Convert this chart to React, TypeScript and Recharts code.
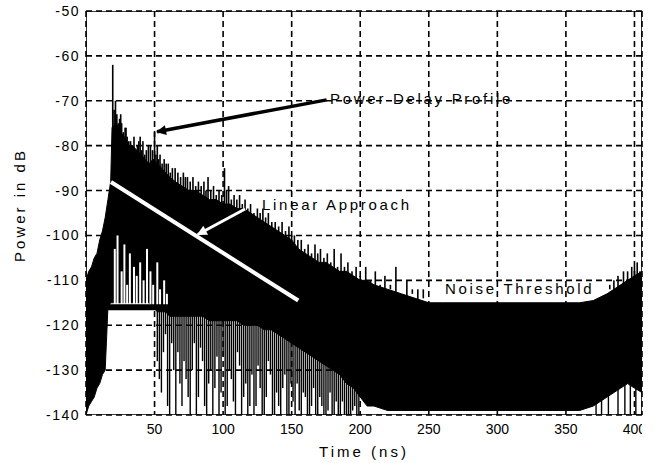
import React from 'react';
import { ComposedChart, Area, Bar, Line, Scatter, XAxis, YAxis, CartesianGrid } from 'recharts';

// ---------- data ----------
const xTicks = [50, 100, 150, 200, 250, 300, 350, 400];
const yTicks = [-140, -130, -120, -110, -100, -90, -80, -70, -60, -50];
const xMax = 405.5;

// envelope of the power delay profile (ns, dB)
const envTimes = [0, 2, 4, 6, 8, 10, 12, 14, 16, 18, 19, 22, 25, 28, 31, 34, 37, 40, 43, 46, 49, 52, 55, 58, 61, 65, 70, 75, 80, 85, 90, 95, 100, 105, 110, 115, 120, 125, 130, 135, 140, 145, 150, 155, 160, 165, 170, 175, 180, 185, 190, 195, 200, 205, 210, 220, 230, 240, 250, 260, 280, 300, 320, 340, 360, 370, 380, 385, 390, 395, 400, 405.5];
const envUpper = [-110, -108, -107, -105, -104, -101, -99, -96, -92, -88, -76, -75, -77, -78, -80, -80, -81, -82, -83, -84, -83, -84, -85, -86, -87, -88, -89, -90, -90, -91, -92, -92, -93, -93, -94, -94, -95, -96, -97, -98, -99, -100, -101, -103, -104, -105, -106, -106, -107, -108, -108, -109, -110, -110, -111, -112, -113, -114, -115, -115, -115, -115, -115, -115, -115, -114.5, -113, -112, -111, -110, -109, -108];
const envLower = [-140, -138, -137, -136, -134, -133, -131, -130, -116, -115, -115, -115, -115, -115, -115, -115, -115, -115, -115, -115, -116, -117, -117, -117, -118, -118, -118, -118, -118, -118, -119, -119, -119, -119, -119, -120, -120, -120, -121, -121, -122, -123, -124, -125, -126, -127, -128, -129, -130, -131, -133, -134, -136, -138, -138, -139, -139, -139, -139, -139, -139, -139, -139, -139, -139, -138, -136, -135, -134, -133, -134, -135];

// upward spikes, first set (ns, low dB, peak dB)
const upSpikeTimes = [19.5, 20.5, 22.5, 24.5, 26, 28.5, 30, 32.5, 35, 37.5, 39.5, 41.5, 44, 47, 50, 52, 54, 57, 60, 63, 67, 71, 74, 78, 82, 86, 89, 93, 97, 101, 104, 108, 112, 116, 120, 125, 129, 133, 138, 143, 148, 152, 157, 162, 167, 171, 176, 181, 186, 191, 197, 204, 211, 218, 226, 234, 242, 385, 392, 398, 402];
const upSpikeLow = [-90, -88, -88, -90, -90, -92, -90, -92, -92, -94, -92, -94, -95, -92, -92, -95, -96, -96, -97, -98, -98, -100, -100, -100, -101, -101, -102, -102, -103, -103, -104, -104, -105, -105, -106, -107, -107, -108, -109, -110, -110, -112, -113, -114, -114, -115, -116, -117, -118, -118, -120, -120, -121, -122, -122, -123, -124, -120, -118, -118, -118];
const upSpikePeak = [-62, -72, -73, -74, -75, -76, -78, -79, -78, -80, -78, -79, -81, -80, -77, -80, -82, -83, -84, -85, -86, -86, -87, -87, -88, -88, -87, -89, -90, -85, -89, -91, -91, -92, -93, -94, -94, -95, -97, -97, -98, -100, -101, -102, -102, -103, -104, -103, -104, -106, -107, -107, -108, -109, -107, -110, -112, -110, -108, -107, -106];

// upward spikes, second set (ns, peak dB), all rising from the body at spikeBase
const upSpike2Times = [21.5, 23.5, 25.3, 27.2, 29.2, 31.2, 33.8, 36.2, 38.5, 40.5, 42.8, 45.5, 48.5, 51, 53, 55.5, 58.5, 61.5, 65, 69, 72.5, 76, 80, 84, 87.5, 91, 95, 99, 102.5, 106, 110, 114, 118, 122.5, 127, 131, 135.5, 140.5, 145.5, 150, 154.5, 159.5, 164.5, 169, 173.5, 178.5, 183.5, 188.5, 194, 200, 207.5, 214.5, 222, 230, 238, 246, 382, 388, 395, 400, 404];
const upSpike2Peak = [-70, -75, -73, -77, -76, -79, -80, -81, -79, -81, -82, -80, -81, -82, -83, -84, -84, -86, -85, -87, -87, -88, -89, -89, -90, -90, -91, -91, -90, -92, -92, -93, -94, -95, -95, -96, -97, -98, -99, -100, -101, -103, -104, -104, -105, -106, -107, -107, -108, -109, -110, -111, -111, -112, -113, -114, -111, -109, -108, -107, -108];
const spikeBase = -112;

// downward spikes (ns, deepest dB), hanging from the body at dipBase
const downSpikeTimes = [52, 53.5, 55, 56.5, 58, 59.5, 61, 62.5, 64, 65.5, 67, 68.5, 70, 71.5, 73, 74.5, 76, 77.5, 79, 80.5, 82, 83.5, 85, 86.5, 88, 89.5, 91, 92.5, 94, 95.5, 97, 98.5, 100, 101.5, 103, 104.5, 106, 107.5, 109, 110.5, 112, 113.5, 115, 116.5, 118, 119.5, 121, 122.5, 124, 125.5, 127, 128.5, 130, 131.5, 133, 134.5, 136, 137.5, 139, 140.5, 142, 143.5, 145, 146.5, 148, 149.5, 151, 152.5, 154, 155.5, 157, 158.5, 160, 161.5, 163, 164.5, 166, 167.5, 169, 170.5, 172, 173.5, 175, 176.5, 178, 179.5, 181, 182.5, 184, 185.5, 187, 188.5, 190, 191.5, 193, 194.5, 196, 197.5, 199, 372, 376, 381, 388, 393, 397, 401];
const downSpikeLow = [-128, -132, -135, -126, -122, -138, -140, -124, -130, -140, -126, -133, -138, -128, -132, -136, -140, -130, -124, -140, -136, -125, -128, -138, -140, -133, -130, -140, -134, -127, -140, -135, -127, -140, -138, -130, -132, -137, -140, -126, -129, -140, -136, -133, -140, -138, -131, -140, -138, -129, -134, -140, -140, -136, -128, -131, -140, -140, -135, -138, -140, -134, -131, -140, -140, -133, -137, -140, -133, -139, -140, -135, -136, -140, -140, -138, -134, -140, -140, -136, -138, -140, -140, -139, -135, -140, -140, -137, -140, -140, -137, -140, -140, -140, -140, -139, -138, -140, -140, -140, -140, -140, -140, -140, -140, -140, -140];
const dipBase = -116;

// deep fades near the first arrivals (ns, fade top dB)
const fadeTimes = [21, 23, 26, 28, 30, 32, 35, 37, 39.5, 42, 44.5, 47, 49, 52, 54, 57, 59];
const fadeTop = [-103, -100, -108, -102, -111, -104, -107, -109, -106, -110, -103, -108, -111, -106, -112, -110, -113];
const fadeBase = -116;

// straight lines and annotations
const linearFit = [{ t: 18.2, v: -88.1 }, { t: 154.8, v: -114.5 }];
const noiseThreshold = [{ t: 16, v: -116 }, { t: xMax, v: -116 }];
const pdpArrow = [{ t: 175.5, v: -69.8 }, { t: 51.8, v: -76.9 }];
const linArrow = [{ t: 116, v: -94.1 }, { t: 81.5, v: -99.8 }];
const annotations = [
  { t: 178, v: -69.6, label: 'Power Delay Profile' },
  { t: 128.4, v: -93.2, label: 'Linear Approach' },
  { t: 261.8, v: -111.8, label: 'Noise Threshold' },
];
const frame = [
  { t: 0, v: -50 }, { t: xMax, v: -50 }, { t: xMax, v: -140 }, { t: 0, v: -140 }, { t: 0, v: -50 },
];

// ---------- tables ----------
const envData = envTimes.map((t, i) => ({ t, band: [envLower[i], envUpper[i]] }));
const spikeRows: any[] = [];
upSpikeTimes.forEach((t, i) => spikeRows.push({ t, up: [upSpikeLow[i], upSpikePeak[i]] }));
upSpike2Times.forEach((t, i) => spikeRows.push({ t, up: [spikeBase, upSpike2Peak[i]] }));
downSpikeTimes.forEach((t, i) => spikeRows.push({ t, dn: [downSpikeLow[i], dipBase] }));
fadeTimes.forEach((t, i) => spikeRows.push({ t, wht: [fadeBase, fadeTop[i]] }));
spikeRows.sort((a, b) => a.t - b.t);

const FONT = '"Liberation Sans", Arial, Helvetica, sans-serif';

const makeSpike = (w: number, color: string) => (props: any) => {
  const { x, y, width, height } = props;
  if (![x, y, width, height].every((n) => typeof n === 'number' && isFinite(n)) || height === 0) return <g />;
  const top = height < 0 ? y + height : y;
  return <rect x={x + width / 2 - w / 2} y={top} width={w} height={Math.abs(height)} fill={color} />;
};
const UpSpike = makeSpike(1.6, '#000');
const DownSpike = makeSpike(1.4, '#000');
const WhiteFade = makeSpike(2, '#fff');

const XTick = (props: any) => {
  const { x, y, payload } = props;
  return (
    <text x={x} y={y + 14} textAnchor="middle" dominantBaseline="central" fontFamily={FONT}
      fontSize={14} fill="#000" clipPath="url(#tickClip)">
      {payload.value}
    </text>
  );
};

const YTick = (props: any) => {
  const { x, y, payload } = props;
  return (
    <text x={x} y={y} textAnchor="end" dominantBaseline="central" fontFamily={FONT}
      fontSize={14} letterSpacing={1.5} fill="#000">
      {payload.value}
    </text>
  );
};

const XTitle = (props: any) => {
  const vb = props.viewBox;
  return (
    <text x={vb.x + vb.width / 2} y={vb.y + 42} textAnchor="middle" fontFamily={FONT}
      fontSize={15} letterSpacing={3} fill="#000">
      Time (ns)
    </text>
  );
};

const YTitle = (props: any) => {
  const vb = props.viewBox;
  const cx = vb.x + 25;
  const cy = vb.y + vb.height / 2 - 8;
  return (
    <text x={cx} y={cy} transform={`rotate(-90 ${cx} ${cy})`} textAnchor="middle" fontFamily={FONT}
      fontSize={15} letterSpacing={3} fill="#000">
      Power in dB
    </text>
  );
};

const AnnotText = (props: any) => {
  const { cx, cy, payload } = props;
  return (
    <text x={cx} y={cy} dominantBaseline="central" fontFamily={FONT} fontSize={15}
      letterSpacing={2.7} fill="#000">
      {payload.label}
    </text>
  );
};

export default function App() {
  return (
    <div style={{ position: 'absolute', left: 0, top: 0, width: 654, height: 463, background: '#fff' }}>
      <ComposedChart width={654} height={463} data={spikeRows} margin={{ top: 11, right: 12, bottom: 0, left: 0 }}>
        <defs>
          <marker id="ahBlack" viewBox="0 0 10 10" refX="9" refY="5" markerWidth="15" markerHeight="10"
            markerUnits="userSpaceOnUse" orient="auto">
            <path d="M0,0 L10,5 L0,10 z" fill="#000" />
          </marker>
          <marker id="ahWhite" viewBox="0 0 10 10" refX="9" refY="5" markerWidth="14" markerHeight="10"
            markerUnits="userSpaceOnUse" orient="auto">
            <path d="M0,0 L10,5 L0,10 z" fill="#fff" />
          </marker>
          <clipPath id="tickClip">
            <rect x={0} y={0} width={642} height={463} />
          </clipPath>
        </defs>
        <CartesianGrid stroke="#000" strokeDasharray="6 4" strokeWidth={1.6} />
        <XAxis dataKey="t" type="number" domain={[0, xMax]} ticks={xTicks} interval={0} allowDataOverflow
          height={48} axisLine={false} tickLine={false} tickSize={0} tickMargin={0} tick={<XTick />}
          label={{ value: 'Time (ns)', content: XTitle }} />
        <XAxis xAxisId="w" dataKey="t" type="number" domain={[0, xMax]} allowDataOverflow hide />
        <XAxis xAxisId="d" dataKey="t" type="number" domain={[0, xMax]} allowDataOverflow hide />
        <YAxis type="number" domain={[-140, -50]} ticks={yTicks} interval={0} allowDataOverflow width={86}
          axisLine={false} tickLine={false} tickSize={0} tickMargin={6} tick={<YTick />}
          label={{ value: 'Power in dB', content: YTitle }} />
        <Area data={envData} dataKey="band" type="linear" fill="#000" fillOpacity={1} stroke="#000"
          strokeWidth={1} isAnimationActive={false} dot={false} activeDot={false} />
        <Bar dataKey="up" fill="#000" shape={UpSpike} isAnimationActive={false} />
        <Bar dataKey="dn" xAxisId="d" fill="#000" shape={DownSpike} isAnimationActive={false} />
        <Bar dataKey="wht" xAxisId="w" fill="#fff" shape={WhiteFade} isAnimationActive={false} />
        <Line data={noiseThreshold} dataKey="v" type="linear" stroke="#000" strokeWidth={6}
          dot={false} activeDot={false} isAnimationActive={false} />
        <Line data={linearFit} dataKey="v" type="linear" stroke="#fff" strokeWidth={4}
          dot={false} activeDot={false} isAnimationActive={false} />
        <Line data={pdpArrow} dataKey="v" type="linear" stroke="#000" strokeWidth={3.5} markerEnd="url(#ahBlack)"
          dot={false} activeDot={false} isAnimationActive={false} />
        <Line data={linArrow} dataKey="v" type="linear" stroke="#fff" strokeWidth={3} markerEnd="url(#ahWhite)"
          dot={false} activeDot={false} isAnimationActive={false} />
        <Line data={frame} dataKey="v" type="linear" stroke="#000" strokeWidth={1.6}
          dot={false} activeDot={false} isAnimationActive={false} />
        <Scatter data={annotations} dataKey="v" shape={<AnnotText />} isAnimationActive={false} />
      </ComposedChart>
    </div>
  );
}
